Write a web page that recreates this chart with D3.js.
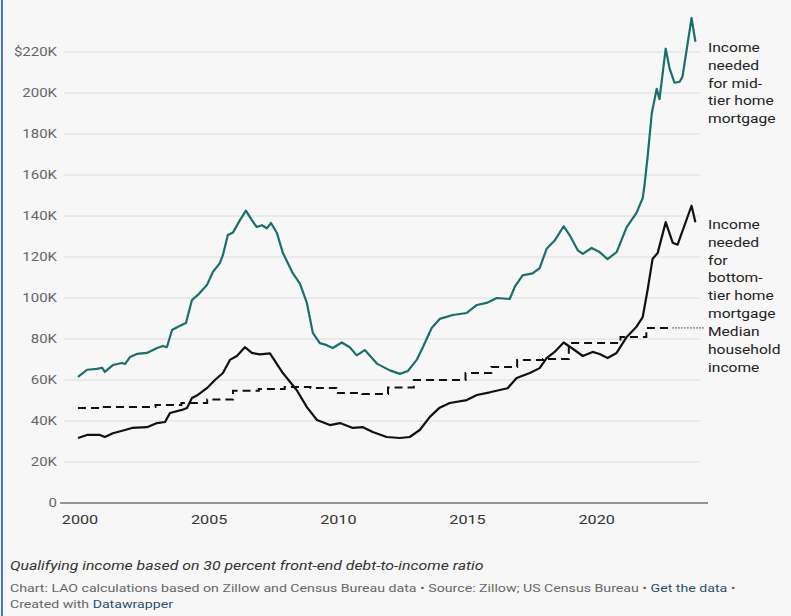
<!DOCTYPE html>
<html>
<head>
<meta charset="utf-8">
<script src="https://cdn.jsdelivr.net/npm/d3@7"></script>
<style>
  html, body { margin: 0; padding: 0; background: #f7f7f7; }
  svg { display: block; font-family: Roboto, "Noto Sans", sans-serif; }
</style>
</head>
<body>
<div id="chart"></div>
<script>
// qualifying income for mid-tier home (thousands of $)
var midYears = [2000.00, 2000.35, 2000.73, 2000.93, 2001.04, 2001.35, 2001.70, 2001.82, 2002.01, 2002.28,
  2002.67, 2003.06, 2003.29, 2003.44, 2003.64, 2003.87, 2004.18, 2004.41, 2004.64, 2004.99,
  2005.22, 2005.49, 2005.61, 2005.80, 2006.00, 2006.27, 2006.50, 2006.73, 2006.92, 2007.12,
  2007.31, 2007.47, 2007.70, 2007.93, 2008.32, 2008.59, 2008.86, 2009.09, 2009.36, 2009.63,
  2009.86, 2010.21, 2010.52, 2010.79, 2011.10, 2011.57, 2012.07, 2012.46, 2012.77, 2013.11,
  2013.35, 2013.69, 2014.00, 2014.51, 2015.05, 2015.44, 2015.82, 2016.21, 2016.71, 2016.91,
  2017.21, 2017.60, 2017.87, 2018.14, 2018.45, 2018.80, 2019.03, 2019.34, 2019.54, 2019.88,
  2020.19, 2020.50, 2020.85, 2021.24, 2021.62, 2021.86, 2021.93, 2022.05, 2022.21, 2022.40,
  2022.51, 2022.75, 2022.90, 2023.09, 2023.29, 2023.40, 2023.75, 2023.90];
var midValues = [61.5, 65, 65.4, 66, 64, 67.3, 68.3, 67.8, 71.2, 72.7,
  73.2, 75.6, 76.6, 76, 84.4, 86, 87.8, 99, 101.5, 106.3,
  112.7, 117, 121, 130.7, 132, 138, 142.6, 138, 134.6, 135.5,
  134, 136.6, 131.7, 122, 112, 107, 97.6, 83, 78, 77,
  75.6, 78.3, 76, 72, 74.6, 68, 64.7, 63, 64.4, 69.8,
  76, 85.4, 89.8, 91.7, 92.7, 96.6, 97.6, 100, 99.5, 105.5,
  111, 112, 114.6, 124, 128, 135, 130.7, 123.4, 121.5, 124.4,
  122.4, 119, 122.4, 134.6, 141.5, 148.8, 155, 169, 190, 202,
  197, 221.6, 212, 205, 205.5, 208, 236.6, 225];

// qualifying income for bottom-tier home
var lowYears = [2000.00, 2000.35, 2000.85, 2001.04, 2001.35, 2001.82, 2002.09, 2002.67, 2003.06, 2003.37,
  2003.56, 2004.02, 2004.22, 2004.41, 2004.64, 2004.99, 2005.30, 2005.61, 2005.88, 2006.15,
  2006.46, 2006.73, 2007.04, 2007.43, 2007.93, 2008.47, 2008.86, 2009.25, 2009.75, 2010.14,
  2010.64, 2011.03, 2011.41, 2011.95, 2012.46, 2012.84, 2013.23, 2013.62, 2014.00, 2014.39,
  2015.05, 2015.44, 2015.94, 2016.63, 2016.98, 2017.49, 2017.87, 2018.14, 2018.45, 2018.80,
  2019.11, 2019.54, 2019.92, 2020.19, 2020.50, 2020.85, 2021.24, 2021.62, 2021.86, 2022.05,
  2022.24, 2022.44, 2022.75, 2023.02, 2023.21, 2023.75, 2023.90];
var lowValues = [31.7, 33.2, 33.2, 32.2, 34, 35.6, 36.6, 37, 39, 39.5,
  43.9, 45.4, 46.3, 51.2, 52.7, 56, 60, 63.4, 69.8, 71.7,
  76, 73.2, 72.5, 73, 63.4, 55, 46.8, 40.5, 38, 39,
  36.6, 37, 34.6, 32.2, 31.7, 32.2, 35.6, 42, 46.5, 48.8,
  50.2, 52.7, 54, 56, 61, 63.4, 65.8, 70.7, 73.7, 78.3,
  75.6, 71.7, 73.7, 72.7, 70.7, 73.2, 81, 86, 90.7, 104,
  119, 122, 137, 127, 126, 145, 137];

// median household income, one value per year
var medianYears = [2000, 2001, 2002, 2003, 2004, 2005, 2006, 2007, 2008, 2009, 2010, 2011,
  2012, 2013, 2014, 2015, 2016, 2017, 2018, 2019, 2020, 2021, 2022];
var medianValues = [46.3, 46.8, 46.8, 47.8, 48.8, 50.5, 54.8, 55.6, 56.6, 56.1, 53.7, 53.2,
  56.3, 60, 60, 63.4, 66.3, 69.8, 70.2, 78, 78, 81, 85.4];

var yTicks = [0, 20, 40, 60, 80, 100, 120, 140, 160, 180, 200, 220];
var xTicks = [2000, 2005, 2010, 2015, 2020];

var labelMid = ["Income", "needed", "for mid-", "tier home", "mortgage"];
var labelLow = ["Income", "needed", "for", "bottom-", "tier home", "mortgage"];
var labelMedian = ["Median", "household", "income"];

var width = 791, height = 616;
// le texte de la reference est plus large que haut : on l'etire un peu
var stretch = 1.2;

function place(px, py) {
  return "translate(" + px + "," + py + ") scale(" + stretch + ",1)";
}

var svg = d3.select("#chart").append("svg")
  .attr("width", width)
  .attr("height", height);

// bord bleu a gauche
svg.append("rect")
  .attr("x", 1).attr("y", 0)
  .attr("width", 2).attr("height", height)
  .attr("fill", "#4a78d0");

var x = d3.scaleLinear().domain([2000, 2024]).range([78, 698]);
var y = d3.scaleLinear().domain([0, 220]).range([503, 52]);

// grille
svg.selectAll("line.grid")
  .data(yTicks.filter(function(d) { return d > 0; }))
  .enter().append("line")
  .attr("class", "grid")
  .attr("x1", 64).attr("x2", 700)
  .attr("y1", function(d) { return y(d); })
  .attr("y2", function(d) { return y(d); })
  .attr("stroke", "#dcdcdc")
  .attr("stroke-width", 1);

// ligne du zero
svg.append("line")
  .attr("x1", 60).attr("x2", 708)
  .attr("y1", y(0)).attr("y2", y(0))
  .attr("stroke", "#333").attr("stroke-width", 1.2);

// axe y
svg.selectAll("text.ylab")
  .data(yTicks)
  .enter().append("text")
  .attr("class", "ylab")
  .attr("transform", function(d) { return place(57, y(d)); })
  .attr("dy", "0.35em")
  .attr("text-anchor", "end")
  .attr("font-size", 12.5)
  .attr("fill", "#666")
  .text(function(d) { return d === 0 ? "0" : (d === 220 ? "$" : "") + d + "K"; });

// axe x
svg.selectAll("text.xlab")
  .data(xTicks)
  .enter().append("text")
  .attr("class", "xlab")
  .attr("transform", function(d) { return place(x(d) + 2, 524); })
  .attr("text-anchor", "middle")
  .attr("font-size", 13.5)
  .attr("fill", "#333")
  .text(function(d) { return d; });

var line = d3.line()
  .x(function(d) { return x(d[0]); })
  .y(function(d) { return y(d[1]); });

// revenu median (marches annuelles)
var medianPts = d3.zip(medianYears, medianValues);
medianPts.push([medianYears[medianYears.length - 1] + 1, medianValues[medianValues.length - 1]]);
svg.append("path")
  .datum(medianPts)
  .attr("fill", "none")
  .attr("stroke", "#111")
  .attr("stroke-width", 2)
  .attr("stroke-dasharray", "8,5")
  .attr("d", line.curve(d3.curveStepAfter));

// connecteur pointille vers le libelle
var lastMed = medianPts[medianPts.length - 1];
svg.append("line")
  .attr("x1", x(lastMed[0])).attr("x2", 705)
  .attr("y1", y(lastMed[1])).attr("y2", y(lastMed[1]))
  .attr("stroke", "#333").attr("stroke-width", 1)
  .attr("stroke-dasharray", "1.5,1.5");

line.curve(d3.curveLinear);

svg.append("path")
  .datum(d3.zip(lowYears, lowValues))
  .attr("fill", "none")
  .attr("stroke", "#111")
  .attr("stroke-width", 2.2)
  .attr("stroke-linejoin", "round")
  .attr("d", line);

svg.append("path")
  .datum(d3.zip(midYears, midValues))
  .attr("fill", "none")
  .attr("stroke", "#17706b")
  .attr("stroke-width", 2.2)
  .attr("stroke-linejoin", "round")
  .attr("d", line);

// libelles des series
function addLabel(lines, top) {
  svg.append("text")
    .attr("transform", place(708, top))
    .attr("font-size", 13)
    .attr("fill", "#222")
    .selectAll("tspan")
    .data(lines)
    .enter().append("tspan")
    .attr("x", 0)
    .attr("dy", function(d, i) { return i === 0 ? 0 : 17.8; })
    .text(function(d) { return d; });
}
addLabel(labelMid, 52);
addLabel(labelLow, 229);
addLabel(labelMedian, 336);

// notes
svg.append("text")
  .attr("transform", place(10, 570))
  .attr("font-size", 13.2)
  .attr("font-style", "italic")
  .attr("fill", "#333")
  .text("Qualifying income based on 30 percent front-end debt-to-income ratio");

var src = svg.append("text")
  .attr("transform", place(10, 592))
  .attr("font-size", 11.8)
  .attr("fill", "#666");
src.append("tspan").text("Chart: LAO calculations based on Zillow and Census Bureau data \u2022 Source: Zillow; US Census Bureau \u2022 ");
src.append("tspan").attr("fill", "#2a4f6b").text("Get the data");
src.append("tspan").text(" \u2022");

var cred = svg.append("text")
  .attr("transform", place(10, 608))
  .attr("font-size", 11.8)
  .attr("fill", "#666");
cred.append("tspan").text("Created with ");
cred.append("tspan").attr("fill", "#2a4f6b").text("Datawrapper");
</script>
</body>
</html>
